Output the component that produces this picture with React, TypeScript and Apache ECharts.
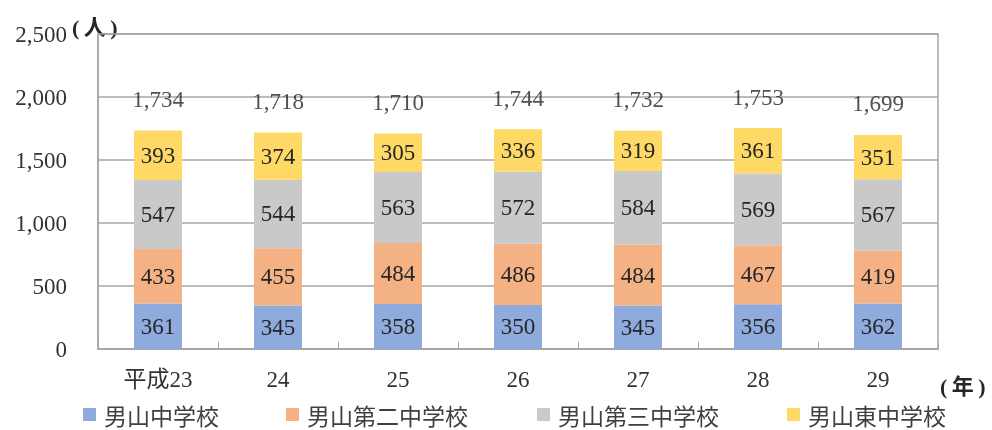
import React, { useEffect, useRef } from "react";
import * as echarts from "echarts";

const categories = ["平成23", "24", "25", "26", "27", "28", "29"];
const seriesNames = ["男山中学校", "男山第二中学校", "男山第三中学校", "男山東中学校"];
const otokoyama = [361, 345, 358, 350, 345, 356, 362];
const otokoyama2 = [433, 455, 484, 486, 484, 467, 419];
const otokoyama3 = [547, 544, 563, 572, 584, 569, 567];
const otokoyamaHigashi = [393, 374, 305, 336, 319, 361, 351];
const totals = [1734, 1718, 1710, 1744, 1732, 1753, 1699];
const colors = ["#8FAADC", "#F4B183", "#C9C9C9", "#FFD966"];
const legendLefts = [83, 286, 537, 787];

const FONT = "'Liberation Serif', 'Noto Sans CJK JP', serif";
const fmt = (v: number) => v.toLocaleString("en-US");

export default function App() {
  const ref = useRef<HTMLDivElement>(null);
  useEffect(() => {
    if (!ref.current) return;
    const chart = echarts.init(ref.current, undefined, { renderer: "svg" });
    const values = [otokoyama, otokoyama2, otokoyama3, otokoyamaHigashi];
    const barSeries = values.map((d, i) => ({
      name: seriesNames[i],
      type: "bar",
      stack: "total",
      barWidth: "40%",
      data: d,
      itemStyle: { color: colors[i] },
      label: {
        show: true,
        position: "inside",
        color: "#262626",
        fontFamily: FONT,
        fontSize: 23,
      },
    }));
    chart.setOption({
      animation: false,
      grid: {
        left: 98,
        right: 54,
        top: 34,
        bottom: 81,
        show: true,
        borderColor: "#A6A6A6",
        borderWidth: 1.5,
      },
      legend: seriesNames.map((n, i) => ({
        data: [n],
        left: legendLefts[i],
        top: 403,
        height: 26,
        padding: 0,
        itemWidth: 13,
        itemHeight: 13,
        itemGap: 0,
        icon: "rect",
        textStyle: {
          fontFamily: "'Noto Sans CJK JP', sans-serif",
          fontSize: 23,
          color: "#404040",
          padding: [0, 0, 0, 3],
        },
      })),
      xAxis: {
        type: "category",
        data: categories,
        axisLine: { lineStyle: { color: "#A6A6A6", width: 1.5 } },
        axisTick: { show: true, inside: true, length: 7, lineStyle: { color: "#A6A6A6" } },
        axisLabel: { color: "#333", fontFamily: FONT, fontSize: 23, margin: 19 },
      },
      yAxis: {
        type: "value",
        min: 0,
        max: 2500,
        interval: 500,
        axisLine: { show: true, lineStyle: { color: "#A6A6A6", width: 1.5 } },
        axisTick: { show: false },
        splitLine: { lineStyle: { color: "#A6A6A6", width: 1.5 } },
        axisLabel: {
          color: "#333",
          fontFamily: FONT,
          fontSize: 23,
          margin: 31,
          formatter: (v: number) => fmt(v),
        },
      },
      series: [
        ...barSeries,
        {
          name: "合計",
          type: "scatter",
          data: totals,
          symbolSize: 1,
          itemStyle: { color: "rgba(0,0,0,0)" },
          label: {
            show: true,
            position: "top",
            distance: 19,
            color: "#262626",
            fontFamily: FONT,
            fontSize: 23,
            formatter: (p: any) => fmt(p.value),
          },
        },
      ],
      graphic: [
        {
          type: "text",
          left: 72,
          top: 16,
          style: { text: "(\u2009人\u2009)", font: `bold 22px ${FONT}`, fill: "#262626" },
        },
        {
          type: "text",
          left: 940,
          top: 375,
          style: { text: "(\u2009年\u2009)", font: `bold 22px ${FONT}`, fill: "#262626" },
        },
      ],
    });
    return () => chart.dispose();
  }, []);
  return (
    <div style={{ position: "fixed", left: 0, top: 0 }}>
      <div ref={ref} style={{ width: 992, height: 430 }} />
    </div>
  );
}
